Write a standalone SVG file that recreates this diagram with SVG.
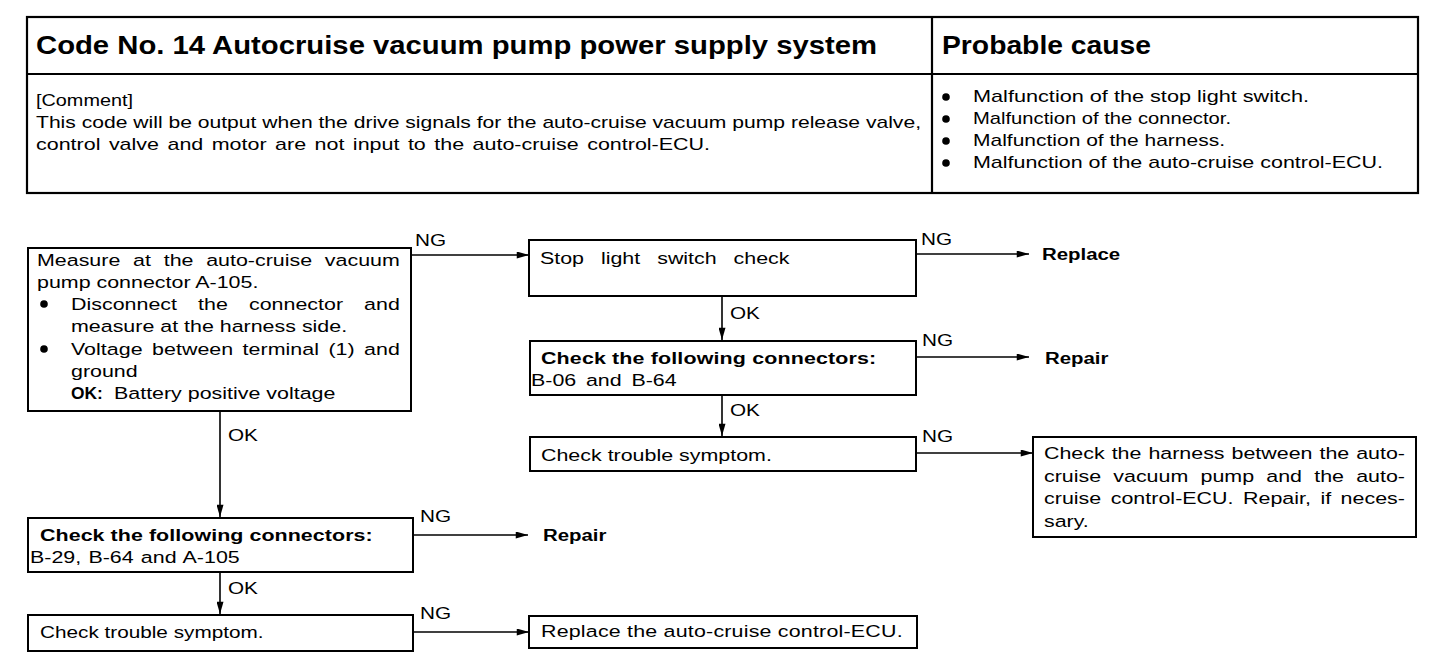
<svg xmlns="http://www.w3.org/2000/svg" width="1456" height="672" viewBox="0 0 1456 672">
<defs>
<marker id="ah" viewBox="0 0 14 8" refX="14" refY="4" markerWidth="14" markerHeight="7" markerUnits="userSpaceOnUse" orient="auto">
<path d="M0,0 L14,4 L0,8 Z" fill="#000"/>
</marker>
<style>
text{font-family:"Liberation Sans",Arial,Helvetica,sans-serif;fill:#000;font-size:17px}
.b{font-weight:bold}
.h{font-size:25px;font-weight:bold}
.box{fill:#fff;stroke:#000;stroke-width:2}
.tb{fill:none;stroke:#000;stroke-width:2.2}
.ca{stroke:#000;stroke-width:1.6;fill:none;marker-end:url(#ah)}
</style>
</defs>
<rect width="1456" height="672" fill="#fff"/>

<g id="table">
<rect class="tb" x="27" y="17" width="1391" height="176"/>
<line class="tb" x1="27" y1="74" x2="1418" y2="74"/>
<line class="tb" x1="932" y1="17" x2="932" y2="193"/>
<text class="h" x="36" y="54" textLength="841" lengthAdjust="spacingAndGlyphs">Code No. 14 Autocruise vacuum pump power supply system</text>
<text class="h" x="942" y="54" textLength="209" lengthAdjust="spacingAndGlyphs">Probable cause</text>
<text x="36" y="106" textLength="97" lengthAdjust="spacingAndGlyphs">[Comment]</text>
<text x="36" y="128" textLength="885" lengthAdjust="spacingAndGlyphs">This code will be output when the drive signals for the auto-cruise vacuum pump release valve,</text>
<text x="36" y="150" textLength="674" lengthAdjust="spacingAndGlyphs" word-spacing="2">control valve and motor are not input to the auto-cruise control-ECU.</text>
<circle cx="946" cy="97" r="3.8"/>
<circle cx="946" cy="119" r="3.8"/>
<circle cx="946" cy="141" r="3.8"/>
<circle cx="946" cy="163" r="3.8"/>
<text x="973" y="102" textLength="336" lengthAdjust="spacingAndGlyphs">Malfunction of the stop light switch.</text>
<text x="973" y="124" textLength="258" lengthAdjust="spacingAndGlyphs">Malfunction of the connector.</text>
<text x="973" y="146" textLength="252" lengthAdjust="spacingAndGlyphs">Malfunction of the harness.</text>
<text x="973" y="168" textLength="410" lengthAdjust="spacingAndGlyphs">Malfunction of the auto-cruise control-ECU.</text>
</g>

<g id="connectors">
<line class="ca" x1="411" y1="255" x2="529" y2="255"/>
<line class="ca" x1="916" y1="254" x2="1029" y2="254"/>
<line class="ca" x1="722" y1="296" x2="722" y2="340"/>
<line class="ca" x1="916" y1="357" x2="1029" y2="357"/>
<line class="ca" x1="722" y1="395" x2="722" y2="436"/>
<line class="ca" x1="916" y1="453" x2="1033" y2="453"/>
<line class="ca" x1="220" y1="411" x2="220" y2="517"/>
<line class="ca" x1="413" y1="535" x2="528" y2="535"/>
<line class="ca" x1="220" y1="572" x2="220" y2="614"/>
<line class="ca" x1="413" y1="632" x2="529" y2="632"/>
<text transform="matrix(1.22 0 0 1 415 246)">NG</text>
<text transform="matrix(1.22 0 0 1 921 245)">NG</text>
<text transform="matrix(1.22 0 0 1 730 319)">OK</text>
<text transform="matrix(1.22 0 0 1 922 346)">NG</text>
<text transform="matrix(1.22 0 0 1 730 416)">OK</text>
<text transform="matrix(1.22 0 0 1 922 442)">NG</text>
<text transform="matrix(1.22 0 0 1 228 441)">OK</text>
<text transform="matrix(1.22 0 0 1 420 522)">NG</text>
<text transform="matrix(1.22 0 0 1 228 594)">OK</text>
<text transform="matrix(1.22 0 0 1 420 619)">NG</text>
</g>

<g id="n_measure">
<rect class="box" x="28" y="248" width="383" height="163"/>
<text transform="matrix(1.26 0 0 1 37 266)" word-spacing="5.4" textLength="288" lengthAdjust="spacing">Measure at the auto-cruise vacuum</text>
<text transform="matrix(1.26 0 0 1 37 288)">pump connector A-105.</text>
<circle cx="44" cy="304" r="3.8"/>
<text transform="matrix(1.26 0 0 1 71 310)" word-spacing="12" textLength="261" lengthAdjust="spacing">Disconnect the connector and</text>
<text transform="matrix(1.26 0 0 1 71 332)">measure at the harness side.</text>
<circle cx="44" cy="349" r="3.8"/>
<text transform="matrix(1.26 0 0 1 71 355)" word-spacing="2.7" textLength="261" lengthAdjust="spacing">Voltage between terminal (1) and</text>
<text transform="matrix(1.26 0 0 1 71 377)">ground</text>
<text transform="matrix(1.02 0 0 1 71 399)" class="b">OK:</text>
<text transform="matrix(1.26 0 0 1 114 399)">Battery positive voltage</text>
</g>

<g id="n_stoplight">
<rect class="box" x="529" y="240" width="387" height="56"/>
<text transform="matrix(1.26 0 0 1 540 264)" word-spacing="8.8" textLength="198" lengthAdjust="spacing">Stop light switch check</text>
</g>

<g id="n_replace1">
<text transform="matrix(1.2 0 0 1 1042 260)" class="b">Replace</text>
</g>

<g id="n_conn1">
<rect class="box" x="530" y="341" width="386" height="54"/>
<text transform="matrix(1.26 0 0 1 541 364)" class="b" textLength="266" lengthAdjust="spacing">Check the following connectors:</text>
<text transform="matrix(1.26 0 0 1 531 386)" word-spacing="3">B-06 and B-64</text>
</g>

<g id="n_repair1">
<text transform="matrix(1.2 0 0 1 1045 364)" class="b">Repair</text>
</g>

<g id="n_trouble1">
<rect class="box" x="530" y="437" width="386" height="34"/>
<text transform="matrix(1.26 0 0 1 541 461)">Check trouble symptom.</text>
</g>

<g id="n_harness">
<rect class="box" x="1033" y="437" width="383" height="100"/>
<text transform="matrix(1.26 0 0 1 1044 459)" word-spacing="0.8" textLength="286.5" lengthAdjust="spacing">Check the harness between the auto-</text>
<text transform="matrix(1.26 0 0 1 1044 482)" word-spacing="5" textLength="286.5" lengthAdjust="spacing">cruise vacuum pump and the auto-</text>
<text transform="matrix(1.26 0 0 1 1044 504)" word-spacing="2.7" textLength="286.5" lengthAdjust="spacing">cruise control-ECU. Repair, if neces-</text>
<text transform="matrix(1.26 0 0 1 1044 527)">sary.</text>
</g>

<g id="n_conn2">
<rect class="box" x="28" y="518" width="385" height="54"/>
<text transform="matrix(1.26 0 0 1 40 541)" class="b" textLength="264" lengthAdjust="spacing">Check the following connectors:</text>
<text transform="matrix(1.26 0 0 1 30 563)" word-spacing="1">B-29, B-64 and A-105</text>
</g>

<g id="n_repair2">
<text transform="matrix(1.2 0 0 1 543 541)" class="b">Repair</text>
</g>

<g id="n_trouble2">
<rect class="box" x="28" y="615" width="385" height="36"/>
<text transform="matrix(1.22 0 0 1 40 638)">Check trouble symptom.</text>
</g>

<g id="n_replaceecu">
<rect class="box" x="529" y="616" width="388" height="32"/>
<text transform="matrix(1.26 0 0 1 541 637)" textLength="287" lengthAdjust="spacing">Replace the auto-cruise control-ECU.</text>
</g>
</svg>
